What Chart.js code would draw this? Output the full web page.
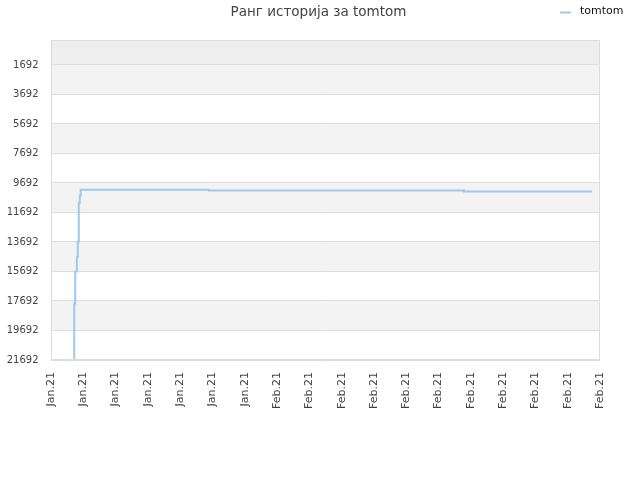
<!DOCTYPE html>
<html><head><meta charset="utf-8">
<script src="https://cdn.jsdelivr.net/npm/chart.js@4/dist/chart.umd.min.js"></script>
<style>html,body{margin:0;padding:0;background:#fff}#wrap{width:640px;height:480px}</style>
</head><body><div id="wrap"><canvas id="c" width="640" height="480"></canvas></div>
<script>
const TITLE = "Ранг историја за tomtom";
const SERIES_NAME = "tomtom";
const tickLabels = ["Jan.21","Jan.21","Jan.21","Jan.21","Jan.21","Jan.21","Jan.21","Feb.21","Feb.21","Feb.21","Feb.21","Feb.21","Feb.21","Feb.21","Feb.21","Feb.21","Feb.21","Feb.21"];
const yTicks = [1692,3692,5692,7692,9692,11692,13692,15692,17692,19692,21692];
const xPos = [0.64, 0.72, 0.75, 0.80, 0.83, 0.86, 0.89, 0.92, 4.89, 12.79, 16.75];
const ranks = [21692, 17862, 15685, 14685, 13665, 11059, 10536, 10148, 10195, 10263, 10263];

const bandPlugin = {
  id: 'bands',
  beforeDraw(chart) {
    const {ctx, chartArea: a, scales: {y}} = chart;
    ctx.save();
    const bounds = [y.min, ...yTicks];
    for (let i = 0; i < bounds.length - 1; i++) {
      const p1 = y.getPixelForValue(bounds[i]);
      const p2 = y.getPixelForValue(bounds[i + 1]);
      let col = i === 0 ? '#eeeeee' : (i % 2 === 1 ? '#f3f3f3' : '#ffffff');
      ctx.fillStyle = col;
      ctx.fillRect(a.left, Math.min(p1, p2), a.right - a.left, Math.abs(p2 - p1));
    }
    ctx.restore();
  },
  afterDraw(chart) {
    const {ctx, chartArea: a} = chart;
    ctx.save();
    ctx.strokeStyle = '#dddddd';
    ctx.lineWidth = 1;
    ctx.strokeRect(Math.round(a.left) + 0.5, Math.round(a.top) + 0.5, Math.round(a.right - a.left) - 1, Math.round(a.bottom - a.top) - 1);
    ctx.fillStyle = '#444444';
    ctx.font = '13.5px "DejaVu Sans"';
    ctx.textAlign = 'center';
    ctx.textBaseline = 'middle';
    ctx.fillText(TITLE, 318.5, 12);
    ctx.strokeStyle = '#9ec8f0';
    ctx.lineWidth = 2;
    ctx.beginPath(); ctx.moveTo(560, 12.5); ctx.lineTo(571, 12.5); ctx.stroke();
    ctx.fillStyle = '#111111';
    ctx.font = '11px "DejaVu Sans"';
    ctx.textAlign = 'left';
    ctx.fillText(SERIES_NAME, 580, 11.5);
    ctx.restore();
  }
};

new Chart(document.getElementById('c'), {
  type: 'line',
  data: {
    datasets: [{
      label: SERIES_NAME,
      data: xPos.map((x, i) => ({x, y: ranks[i]})),
      borderColor: '#9ec8f0',
      backgroundColor: '#9ec8f0',
      borderWidth: 2,
      pointRadius: 0,
      stepped: 'before',
      fill: false
    }]
  },
  options: {
    responsive: false,
    animation: false,
    layout: {padding: {top: 40, right: 40, left: 0, bottom: 0}},
    plugins: {legend: {display: false}, title: {display: false}, tooltip: {enabled: false}},
    scales: {
      x: {
        type: 'linear', min: 0, max: 17,
        grid: {display: false, drawTicks: false},
        border: {display: false},
        afterBuildTicks(s) { s.ticks = tickLabels.map((_, i) => ({value: i})); },
        afterFit(s) { s.height = 120; },
        ticks: {
          autoSkip: false, minRotation: 90, maxRotation: 90, padding: 12,
          color: '#444', font: {family: '"DejaVu Sans"', size: 11},
          callback: (v) => tickLabels[v]
        }
      },
      y: {
        type: 'linear', reverse: true, min: 0, max: 21692,
        grid: {color: '#dddddd', drawTicks: false},
        border: {display: false},
        afterBuildTicks(s) { s.ticks = yTicks.map(v => ({value: v})); },
        afterFit(s) { s.width = 51; },
        ticks: {
          padding: 12.5, color: '#444', font: {family: '"DejaVu Sans"', size: 10},
          callback: (v) => String(v)
        }
      }
    }
  },
  plugins: [bandPlugin]
});
</script></body></html>
